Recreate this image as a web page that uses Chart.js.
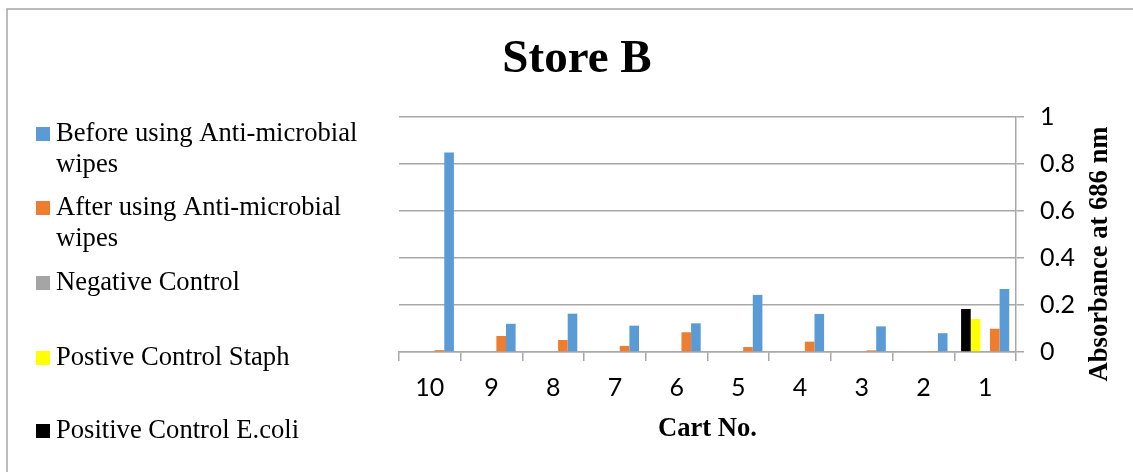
<!DOCTYPE html>
<html lang="en">
<head>
<meta charset="UTF-8">
<title>Store B</title>
<script src="https://cdn.jsdelivr.net/npm/chart.js@4.4.0/dist/chart.umd.min.js"></script>
<style>
  html, body { margin: 0; padding: 0; background: #fff; }
</style>
</head>
<body>
<canvas id="myChart" width="1133" height="472"></canvas>
<script>
// values, carts shown 10 -> 1
const carts = ['10', '9', '8', '7', '6', '5', '4', '3', '2', '1'];
const beforeWipes = [0.849, 0.120, 0.163, 0.112, 0.122, 0.243, 0.162, 0.109, 0.080, 0.268];
const afterWipes  = [0.008, 0.068, 0.051, 0.026, 0.084, 0.021, 0.044, 0.007, 0.002, 0.099];
const negativeControl = [0, 0, 0, 0, 0, 0, 0, 0, 0, 0];
const staphControl = [null, null, null, null, null, null, null, null, null, 0.140];
const ecoliControl = [null, null, null, null, null, null, null, null, null, 0.183];
const yTicks = [0, 0.2, 0.4, 0.6, 0.8, 1];

const serif = '"Liberation Serif", "Times New Roman", serif';
const sans = 'Lato, "Open Sans", sans-serif';
const gridGray = '#a8a8a8';

// legend on the left, listed in reverse dataset order like the original
const sideLegend = {
    id: 'sideLegend',
    afterDraw(chart) {
        const ctx = chart.ctx;
        const baselines = [141, 215, 290, 365, 438];
        const items = chart.data.datasets.slice().reverse();
        ctx.save();
        ctx.font = '26.6px ' + serif;
        ctx.textBaseline = 'alphabetic';
        ctx.textAlign = 'left';
        items.forEach((ds, i) => {
            const y = baselines[i];
            ctx.fillStyle = ds.backgroundColor;
            ctx.fillRect(36, y - 14, 14, 14);
            // simple word wrap
            const words = ds.label.split(' ');
            let line = '';
            let ly = y;
            ctx.fillStyle = '#000';
            words.forEach(w => {
                const test = line ? line + ' ' + w : w;
                if (ctx.measureText(test).width > 325 && line) {
                    ctx.fillText(line, 56, ly);
                    line = w;
                    ly += 31;
                } else {
                    line = test;
                }
            });
            ctx.fillText(line, 56, ly);
        });
        ctx.restore();
    }
};

// title, right axis title and the frame
const extras = {
    id: 'extras',
    afterDraw(chart) {
        const ctx = chart.ctx;
        ctx.save();
        ctx.strokeStyle = '#a6a6a6';
        ctx.lineWidth = 1.5;
        ctx.beginPath();
        ctx.moveTo(7, 472);
        ctx.lineTo(7, 9);
        ctx.lineTo(1133, 9);
        ctx.stroke();

        ctx.fillStyle = '#000';
        ctx.textAlign = 'center';
        ctx.textBaseline = 'alphabetic';
        ctx.font = 'bold 47px ' + serif;
        ctx.fillText('Store B', 577, 72);

        ctx.translate(1100, 254);
        ctx.rotate(-Math.PI / 2);
        ctx.font = 'bold 26.6px ' + serif;
        ctx.textBaseline = 'middle';
        ctx.fillText('Absorbance at 686 nm', 0, 0);
        ctx.restore();
    }
};

const ctx = document.getElementById('myChart').getContext('2d');
const myChart = new Chart(ctx, {
    type: 'bar',
    data: {
        labels: carts,
        datasets: [
            { label: 'Positive Control E.coli', data: ecoliControl, backgroundColor: '#000000' },
            { label: 'Postive Control Staph', data: staphControl, backgroundColor: '#ffff00' },
            { label: 'Negative Control', data: negativeControl, backgroundColor: '#a5a5a5' },
            { label: 'After using Anti-microbial wipes', data: afterWipes, backgroundColor: '#ed7d31' },
            { label: 'Before using Anti-microbial wipes', data: beforeWipes, backgroundColor: '#5b9bd5' }
        ]
    },
    plugins: [sideLegend, extras],
    options: {
        responsive: false,
        animation: false,
        devicePixelRatio: 1,
        layout: { padding: { left: 399, top: 117, right: 57, bottom: 20 } },
        datasets: { bar: { categoryPercentage: 0.78, barPercentage: 1 } },
        plugins: {
            legend: { display: false },
            title: { display: false },
            tooltip: { enabled: false }
        },
        scales: {
            x: {
                offset: true,
                grid: { offset: true, drawOnChartArea: false, drawTicks: true, tickLength: 9, color: gridGray, lineWidth: 1.5 },
                border: { display: true, color: gridGray, width: 1.5 },
                ticks: { font: { family: sans, size: 25 }, color: '#000', padding: 12 },
                title: {
                    display: true, text: 'Cart No.', color: '#000',
                    font: { family: serif, size: 26.6, weight: 'bold' },
                    padding: { top: 0, bottom: 7 }
                },
                afterFit(scale) { scale.height = 100; }
            },
            y: {
                position: 'right',
                min: 0,
                max: 1,
                afterBuildTicks(scale) { scale.ticks = yTicks.map(v => ({ value: v })); },
                grid: { color: gridGray, lineWidth: 1.5, tickLength: 8 },
                border: { display: true, color: gridGray, width: 1.5 },
                ticks: {
                    font: { family: sans, size: 25 }, color: '#000', padding: 16,
                    callback: value => String(Number(value.toFixed(1)))
                },
                afterFit(scale) { scale.width = 60; }
            }
        }
    }
});
</script>
</body>
</html>
